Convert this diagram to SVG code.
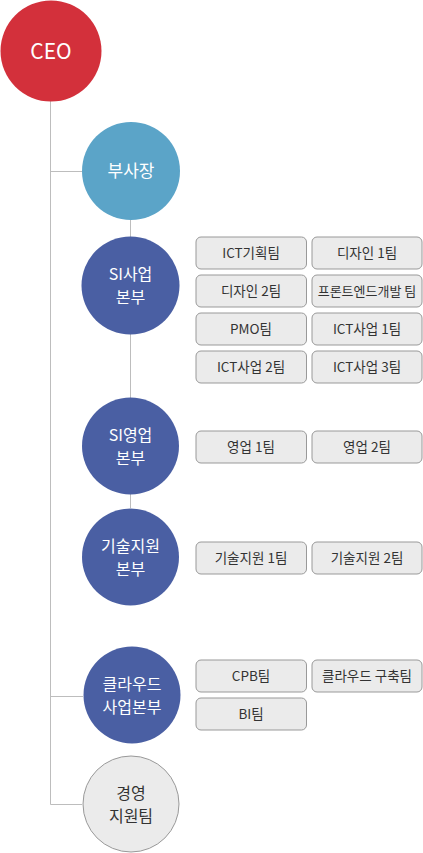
<svg xmlns="http://www.w3.org/2000/svg" width="423" height="853" viewBox="0 0 423 853">
<style>
.ln{stroke:#bdbdbd;stroke-width:1;fill:none}
.c text{font-family:"Noto Sans CJK KR","Noto Sans",sans-serif;font-size:16px;fill:#fff;text-anchor:middle}
.b rect{fill:#ebebeb;stroke:#999;stroke-width:1}
.b text{font-family:"Noto Sans CJK KR","Noto Sans",sans-serif;font-size:13.5px;fill:#333;text-anchor:middle}
.red{fill:#d3303b}
.sky{fill:#5ba4c8}
.navy{fill:#4a5fa3}
.grey{fill:#ebebeb;stroke:#999;stroke-width:1}
.c text.dk{fill:#333}
</style>
<g id="connectors">
<path class="ln" d="M50.5 100V804.5H82M50.5 171.5H82M50.5 696.5H83M130.5 220V237M130.5 334V398M130.5 494V508"/>
</g>
<g id="ceo" class="c"><circle class="red" cx="51" cy="51" r="50.5"/><text x="51" y="58.5" style="font-size:21px">CEO</text></g>
<g id="vp" class="c"><circle class="sky" cx="131" cy="171" r="49"/><text x="131" y="177" style="font-size:17px">부사장</text></g>
<g id="si-biz" class="c"><circle class="navy" cx="130.5" cy="285.5" r="49"/><text x="130.5" y="280">SI사업</text><text x="130.5" y="303">본부</text></g>
<g id="si-sales" class="c"><circle class="navy" cx="130.5" cy="446" r="48.5"/><text x="130.5" y="440.5">SI영업</text><text x="130.5" y="463.5">본부</text></g>
<g id="tech" class="c"><circle class="navy" cx="130.5" cy="557" r="48.5"/><text x="130.5" y="551.5">기술지원</text><text x="130.5" y="574.5">본부</text></g>
<g id="cloud" class="c"><circle class="navy" cx="132" cy="695" r="48.5"/><text x="132" y="689.5">클라우드</text><text x="132" y="712.5">사업본부</text></g>
<g id="mgmt" class="c"><circle class="grey" cx="131" cy="804" r="48"/><text class="dk" x="131" y="798.5">경영</text><text class="dk" x="131" y="821.5">지원팀</text></g>
<g id="t1" class="b"><rect x="196" y="237" width="110.5" height="32" rx="5"/><text x="251" y="258">ICT기획팀</text></g>
<g id="t2" class="b"><rect x="312" y="237" width="110" height="32" rx="5"/><text x="367" y="258">디자인 1팀</text></g>
<g id="t3" class="b"><rect x="196" y="275" width="110.5" height="32" rx="5"/><text x="251" y="296">디자인 2팀</text></g>
<g id="t4" class="b"><rect x="312" y="275" width="110" height="32" rx="5"/><text x="367" y="296" style="font-size:13px">프론트엔드개발 팀</text></g>
<g id="t5" class="b"><rect x="196" y="313" width="110.5" height="32" rx="5"/><text x="251" y="334">PMO팀</text></g>
<g id="t6" class="b"><rect x="312" y="313" width="110" height="32" rx="5"/><text x="367" y="334">ICT사업 1팀</text></g>
<g id="t7" class="b"><rect x="196" y="351" width="110.5" height="32" rx="5"/><text x="251" y="372">ICT사업 2팀</text></g>
<g id="t8" class="b"><rect x="312" y="351" width="110" height="32" rx="5"/><text x="367" y="372">ICT사업 3팀</text></g>
<g id="t9" class="b"><rect x="196" y="431" width="110.5" height="32" rx="5"/><text x="251" y="452">영업 1팀</text></g>
<g id="t10" class="b"><rect x="312" y="431" width="110" height="32" rx="5"/><text x="367" y="452">영업 2팀</text></g>
<g id="t11" class="b"><rect x="196" y="542" width="110.5" height="32" rx="5"/><text x="251" y="563">기술지원 1팀</text></g>
<g id="t12" class="b"><rect x="312" y="542" width="110" height="32" rx="5"/><text x="367" y="563">기술지원 2팀</text></g>
<g id="t13" class="b"><rect x="196" y="660" width="110.5" height="32" rx="5"/><text x="251" y="681">CPB팀</text></g>
<g id="t14" class="b"><rect x="312" y="660" width="110" height="32" rx="5"/><text x="367" y="681">클라우드 구축팀</text></g>
<g id="t15" class="b"><rect x="196" y="698" width="110.5" height="32" rx="5"/><text x="251" y="719">BI팀</text></g>
</svg>
